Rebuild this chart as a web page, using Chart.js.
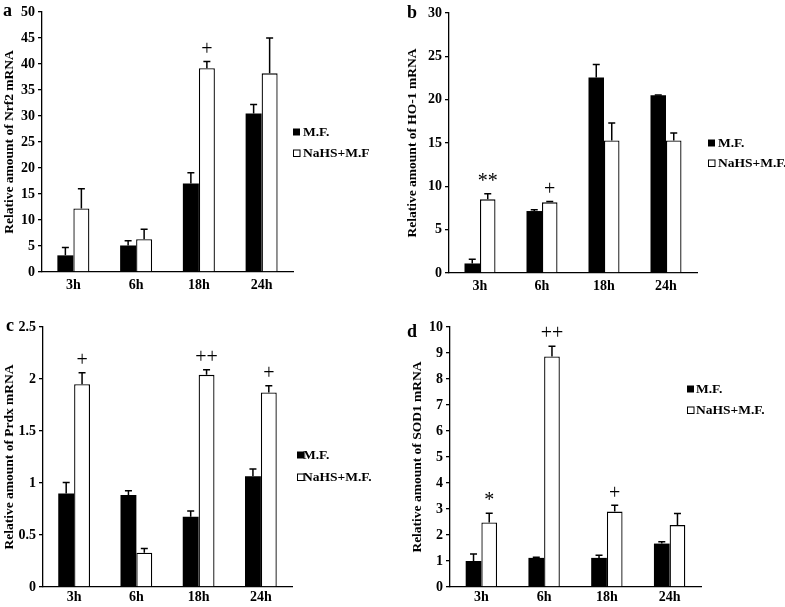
<!DOCTYPE html>
<html>
<head>
<meta charset="utf-8">
<script src="https://cdn.jsdelivr.net/npm/chart.js@4.4.0/dist/chart.umd.min.js"></script>
<style>
body { margin: 0; background: #fff; }
#wrap { position: relative; width: 785px; height: 607px; overflow: hidden; }
canvas { position: absolute; }
</style>
</head>
<body>
<div id="wrap">
  <canvas id="ca" width="390" height="300" style="left:0;top:0"></canvas>
  <canvas id="cb" width="395" height="300" style="left:390px;top:0"></canvas>
  <canvas id="cc" width="390" height="307" style="left:0;top:300px"></canvas>
  <canvas id="cd" width="395" height="307" style="left:390px;top:300px"></canvas>
</div>
<script>
// data
const hours = ['3h', '6h', '18h', '24h'];

const nrf2MF = [3.2, 5.1, 17.0, 30.5];
const nrf2MFErr = [1.5, 0.9, 2.1, 1.7];
const nrf2NaHS = [12.2, 6.3, 39.2, 38.2];
const nrf2NaHSErr = [3.8, 1.9, 1.3, 6.8];
const nrf2Marks = ['', '', '+', ''];

const ho1MF = [1.1, 7.15, 22.55, 20.5];
const ho1MFErr = [0.5, 0.15, 1.5, 0.05];
const ho1NaHS = [8.5, 8.15, 15.3, 15.3];
const ho1NaHSErr = [0.65, 0.1, 2.0, 0.85];
const ho1Marks = ['**', '+', '', ''];

const prdxMF = [0.9, 0.885, 0.675, 1.065];
const prdxMFErr = [0.105, 0.04, 0.055, 0.07];
const prdxNaHS = [1.95, 0.33, 2.04, 1.87];
const prdxNaHSErr = [0.11, 0.04, 0.05, 0.065];
const prdxMarks = ['+', '', '++', '+'];

const sodMF = [1.0, 1.12, 1.12, 1.67];
const sodMFErr = [0.27, 0.02, 0.1, 0.07];
const sodNaHS = [2.48, 8.87, 2.9, 2.38];
const sodNaHSErr = [0.36, 0.39, 0.24, 0.45];
const sodMarks = ['*', '++', '+', ''];

const FONT = "'Liberation Serif', 'Times New Roman', serif";

const panelPlugin = {
    id: 'panel',
    afterDatasetsDraw(chart, args, opts) {
        const ctx = chart.ctx;
        const ys = chart.scales.y;
        ctx.save();
        ctx.strokeStyle = '#000';
        ctx.fillStyle = '#000';
        ctx.lineWidth = 1.5;
        chart.data.datasets.forEach(function (ds, i) {
            const meta = chart.getDatasetMeta(i);
            meta.data.forEach(function (bar, j) {
                const top = ys.getPixelForValue(ds.data[j] + opts.errors[i][j]);
                ctx.beginPath();
                ctx.moveTo(bar.x, bar.y);
                ctx.lineTo(bar.x, top);
                ctx.moveTo(bar.x - 3.5, top);
                ctx.lineTo(bar.x + 3.5, top);
                ctx.stroke();
                if (i == 1 && opts.marks[j]) {
                    ctx.font = '20px ' + FONT;
                    ctx.textAlign = 'center';
                    ctx.textBaseline = 'middle';
                    ctx.fillText(opts.marks[j], bar.x, top - 12);
                }
            });
        });
        // panel letter
        ctx.font = 'bold 18px ' + FONT;
        ctx.textAlign = 'left';
        ctx.textBaseline = 'middle';
        ctx.fillText(opts.letter[0], opts.letter[1], opts.letter[2]);
        // legend
        ctx.font = 'bold 13.5px ' + FONT;
        ctx.lineWidth = 1;
        const lg = opts.legend;
        chart.data.datasets.forEach(function (ds, i) {
            const yy = lg.y[i];
            if (i == 0) {
                ctx.fillRect(lg.x, yy - 3.5, 7, 7);
            } else {
                ctx.strokeRect(lg.x + 0.5, yy - 3, 6.5, 6.5);
            }
            ctx.fillText(ds.label, lg.tx, yy + 0.5);
        });
        ctx.restore();
    }
};

function makeChart(id, box, yMax, yStep, title, mf, mfErr, nahs, nahsErr, marks, labels, letter, legend) {
    const canvas = document.getElementById(id);
    const W = canvas.width, H = canvas.height;
    return new Chart(canvas, {
        type: 'bar',
        data: {
            labels: hours,
            datasets: [
                { label: labels[0], data: mf, backgroundColor: '#000', borderColor: '#000', borderWidth: 0 },
                { label: labels[1], data: nahs, backgroundColor: '#fff', borderColor: '#000', borderWidth: 1.3 }
            ]
        },
        options: {
            responsive: false,
            animation: false,
            devicePixelRatio: 1,
            categoryPercentage: box.cat,
            barPercentage: 1,
            layout: { padding: { left: box.padLeft, top: box.top, right: W - box.right, bottom: 0 } },
            plugins: {
                legend: { display: false },
                tooltip: { enabled: false },
                panel: { errors: [mfErr, nahsErr], marks: marks, letter: letter, legend: legend }
            },
            scales: {
                x: {
                    grid: { display: false, drawTicks: false },
                    border: { display: true, color: '#000', width: 1.3 },
                    ticks: { color: '#000', padding: box.xPad, font: { family: FONT, size: 14, weight: 'bold' } },
                    afterFit: function (s) { s.height = H - box.bottom; }
                },
                y: {
                    min: 0,
                    max: yMax,
                    grid: { drawOnChartArea: false, drawTicks: true, tickLength: 4, color: '#000', lineWidth: 1.3 },
                    border: { display: true, color: '#000', width: 1.3 },
                    ticks: {
                        stepSize: yStep,
                        color: '#000',
                        padding: 3,
                        font: { family: FONT, size: 14, weight: 'bold' },
                        callback: function (v) { return String(+v.toFixed(2)); }
                    },
                    title: {
                        display: true,
                        text: title,
                        color: '#000',
                        padding: { top: 1, bottom: 0 },
                        font: { family: FONT, size: 13.5, weight: 'bold' }
                    },
                    afterFit: function (s) { s.width = box.left - box.padLeft; }
                }
            }
        },
        plugins: [panelPlugin]
    });
}

makeChart('ca', { left: 42, right: 293, top: 12, bottom: 272, padLeft: 0, cat: 0.51, xPad: 5 },
    50, 5, 'Relative amount of Nrf2 mRNA', nrf2MF, nrf2MFErr, nrf2NaHS, nrf2NaHSErr, nrf2Marks,
    ['M.F.', 'NaHS+M.F'], ['a', 3, 11], { x: 293, tx: 303, y: [132, 153] });

makeChart('cb', { left: 59, right: 307, top: 13, bottom: 273, padLeft: 13, cat: 0.5, xPad: 5 },
    30, 5, 'Relative amount of HO-1 mRNA', ho1MF, ho1MFErr, ho1NaHS, ho1NaHSErr, ho1Marks,
    ['M.F.', 'NaHS+M.F.'], ['b', 17, 13], { x: 318, tx: 328, y: [143, 163] });

makeChart('cc', { left: 43, right: 292, top: 27, bottom: 287, padLeft: 0, cat: 0.51, xPad: 2 },
    2.5, 0.5, 'Relative amount of Prdx mRNA', prdxMF, prdxMFErr, prdxNaHS, prdxNaHSErr, prdxMarks,
    ['M.F.', 'NaHS+M.F.'], ['c', 6, 26], { x: 297, tx: 303, y: [155, 177] });

makeChart('cd', { left: 60, right: 311, top: 27, bottom: 287, padLeft: 18, cat: 0.5, xPad: 2 },
    10, 1, 'Relative amount of SOD1 mRNA', sodMF, sodMFErr, sodNaHS, sodNaHSErr, sodMarks,
    ['M.F.', 'NaHS+M.F.'], ['d', 17, 32], { x: 297, tx: 306, y: [89, 110] });
</script>
</body>
</html>
